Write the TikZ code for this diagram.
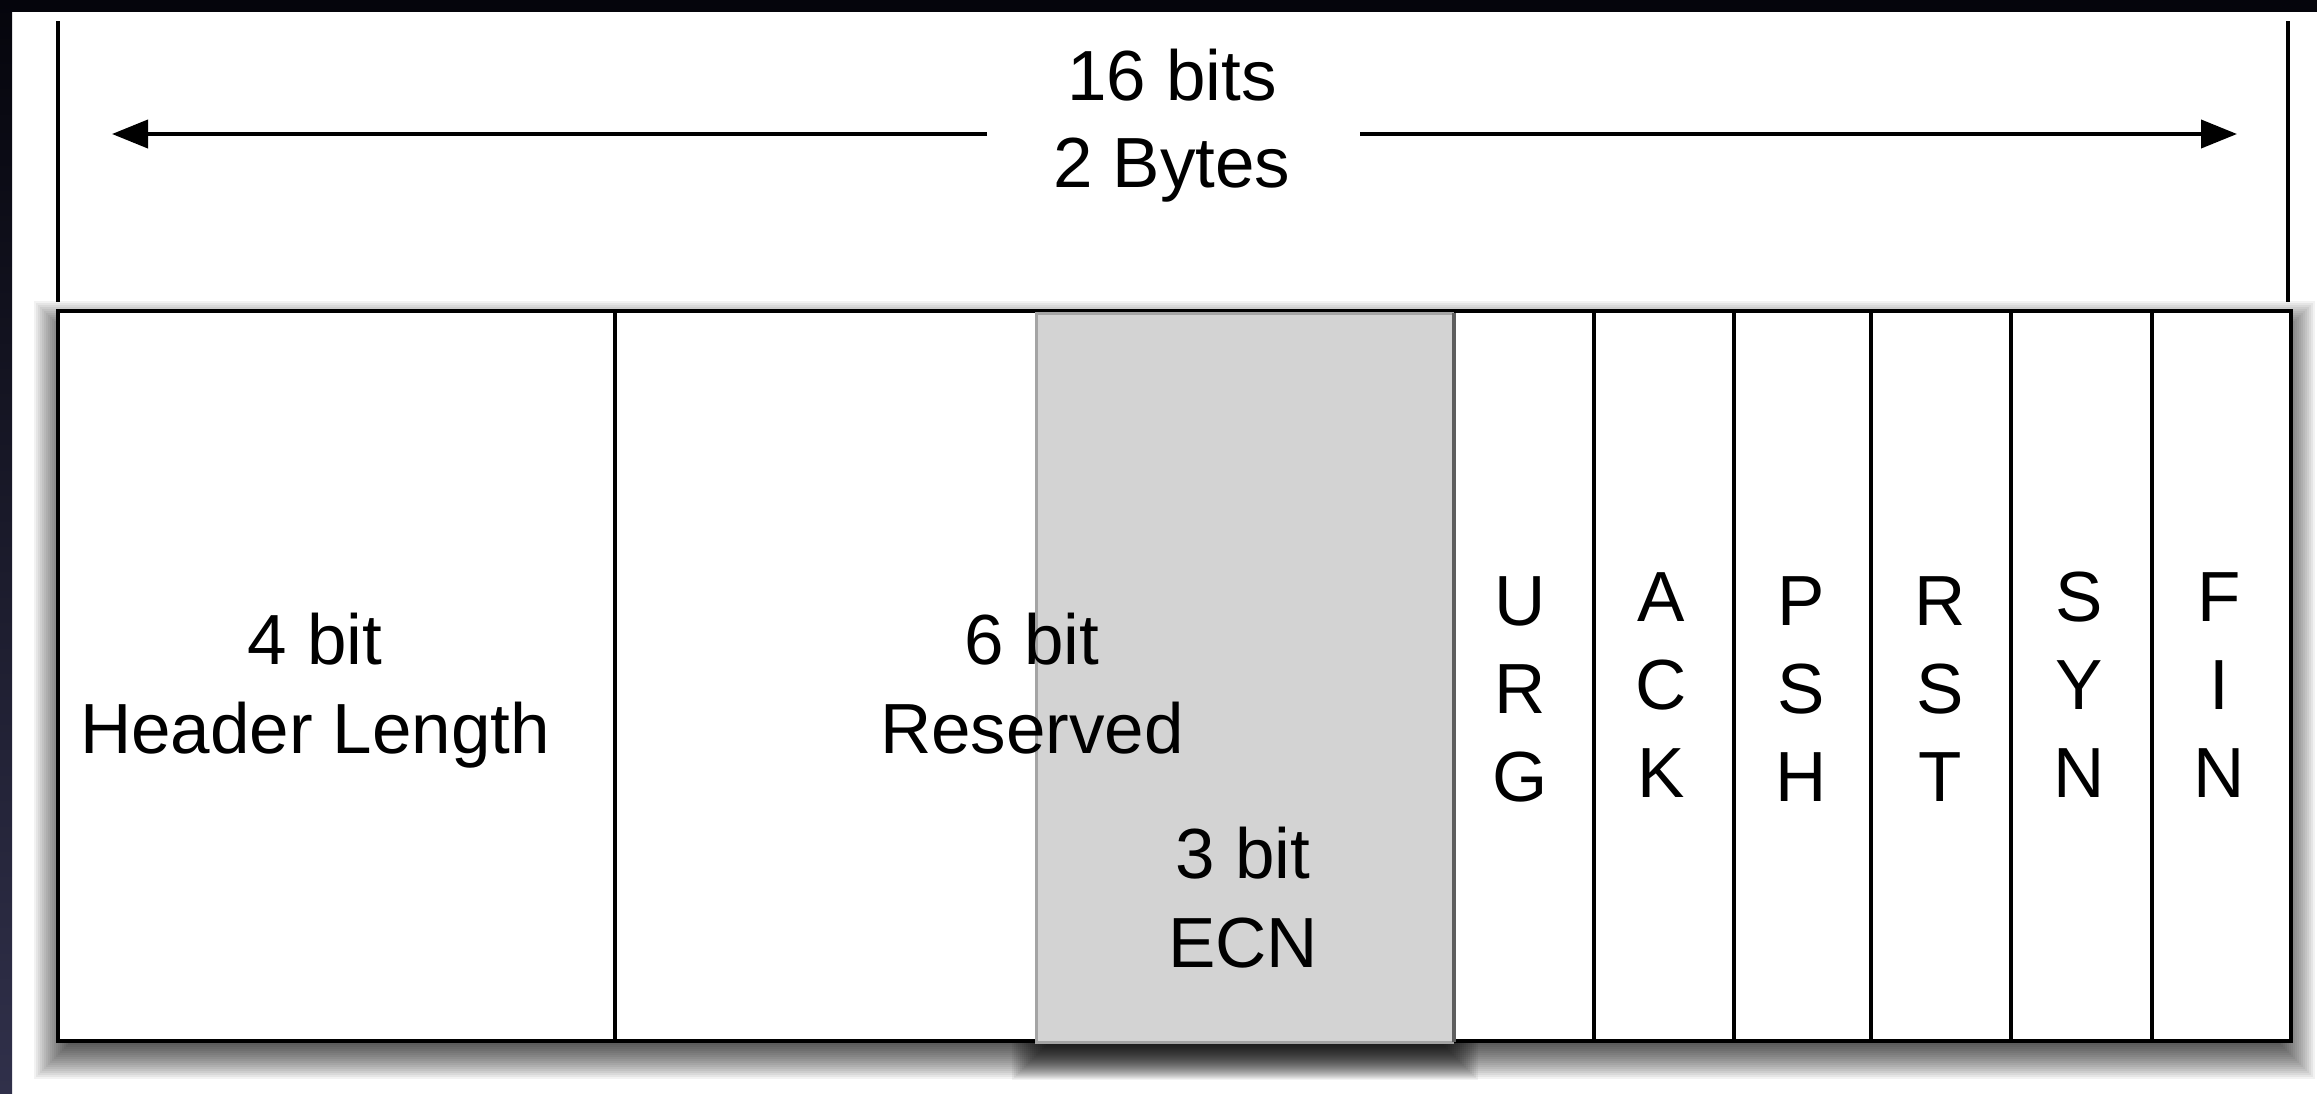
\documentclass[tikz,border=0pt]{standalone}
\usepackage{fontspec}
\setmainfont{Liberation Sans}
\usetikzlibrary{arrows.meta}
\definecolor{ecnfill}{HTML}{D3D3D3}
\definecolor{ecnedge}{HTML}{A4A4A4}
\definecolor{ecnside}{HTML}{5E5E5E}
\definecolor{frametop}{HTML}{05050C}
\definecolor{frameside}{HTML}{30304A}
\tikzset{
  % multi-line labels are placed by the baseline of their last line
  lbl/.style={font=\fontsize{35.5}{44.5}\selectfont, align=center, anchor=base, inner sep=0pt},
  flag/.style={font=\fontsize{35.5}{44}\selectfont, align=center, anchor=base, inner sep=0pt},
  outline/.style={draw=black, line width=2pt},
  divider/.style={draw=black, line width=1.6pt},
  extent/.style={draw=black, line width=2pt},
  dimarrow/.style={line width=2pt, -{Triangle[length=18pt,width=14pt]}},
  softshadow/.style={fill=black, opacity=0.05},
}
\begin{document}
\begin{tikzpicture}[x=0.5pt, y=-0.5pt]
  % canvas and dark frame edges
  \fill[white] (0,0) rectangle (2317,1093);
  \useasboundingbox (0,0) rectangle (2317,1093);
  \fill[frametop] (0,0) rectangle (2317,12);
  \shade[top color=frametop, bottom color=frameside] (0,0) rectangle (12,1093);

  % soft shadow of the ECN block (only shows below the header)
  \begin{scope}
    \clip (0,1041) rectangle (2317,1093);
    \foreach \e in {-14,-12,...,24}
      \fill[softshadow] (1036-\e,327-\e) rectangle (1454+\e,1056+\e);
  \end{scope}
  % soft shadow of the whole header
  \foreach \e in {-14,-12,...,24}
    \fill[softshadow] (58-\e,325-\e) rectangle (2291+\e,1055+\e);

  % header body
  \fill[white] (58,311) rectangle (2291,1041);
  \draw[outline] (58,311) rectangle (2291,1041);
  \foreach \x in {615,1594,1734,1871,2011,2152}
    \draw[divider] (\x,311) -- (\x,1041);

  % ECN block laid over the reserved field
  \fill[ecnfill] (1036,313) rectangle (1454,1042);
  \draw[ecnedge, line width=1.5pt] (1454,313) -- (1036,313) -- (1036,1042) -- (1454,1042);
  \draw[ecnside, line width=1.6pt] (1454,313) -- (1454,1042);

  % width marker above the header
  \draw[extent] (58,21) -- (58,302);
  \draw[extent] (2288,21) -- (2288,302);
  \coordinate (tipL) at (112,134);
  \coordinate (tipR) at (2237,134);
  \coordinate (gapL) at (987,134);
  \coordinate (gapR) at (1360,134);
  \node[lbl, font=\fontsize{35.5}{43.5}\selectfont] (width) at (1172,187) {16 bits\\2 Bytes};
  \draw[dimarrow] (gapL) -- (tipL);
  \draw[dimarrow] (gapR) -- (tipR);

  % field labels
  \node[lbl] (hlen) at (315,753) {4 bit\\Header Length};
  \node[lbl] (resv) at (1032,753) {6 bit\\Reserved};
  \node[lbl] (ecn) at (1243,967) {3 bit\\ECN};

  % flag bits
  \node[flag] (urg) at (1520,801) {U\\R\\G};
  \node[flag] (ack) at (1661,797) {A\\C\\K};
  \node[flag] (psh) at (1801,801) {P\\S\\H};
  \node[flag] (rst) at (1940,801) {R\\S\\T};
  \node[flag] (syn) at (2079,797) {S\\Y\\N};
  \node[flag] (fin) at (2219,797) {F\\I\\N};
\end{tikzpicture}
\end{document}
